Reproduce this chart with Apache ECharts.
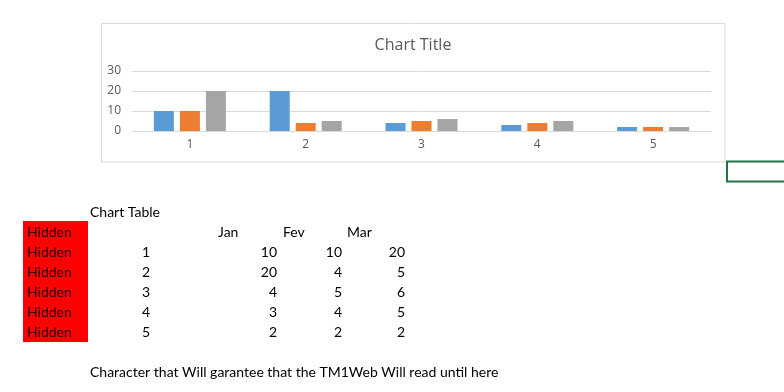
<!DOCTYPE html>
<html>
<head>
<meta charset="utf-8">
<script src="https://cdn.jsdelivr.net/npm/echarts@6/dist/echarts.min.js"></script>
<style>
html,body{margin:0;padding:0;background:#fff;}
#c{width:784px;height:392px;}
</style>
</head>
<body>
<div id="c"></div>
<script>
const categories = ['1', '2', '3', '4', '5'];
const seriesNames = ['Jan', 'Fev', 'Mar'];
const janValues = [10, 20, 4, 3, 2];
const fevValues = [10, 4, 5, 4, 2];
const marValues = [20, 5, 6, 5, 2];
const yTicks = [0, 10, 20, 30];
const hiddenLabels = ['Hidden', 'Hidden', 'Hidden', 'Hidden', 'Hidden', 'Hidden'];
const chartTitle = 'Chart Title';
const tableTitle = 'Chart Table';
const footerText = 'Character that Will garantee that the TM1Web Will read until here';

const colors = ['#5B9BD5', '#ED7D31', '#A5A5A5'];
const cellFont = '14px Lato, "Open Sans", sans-serif';
const chartFont = '"Open Sans", "Noto Sans", sans-serif';

const chart = echarts.init(document.getElementById('c'), null, {renderer: 'canvas'});

const graphics = [];
// chart area border
graphics.push({type: 'rect', shape: {x: 101.5, y: 23.5, width: 623.5, height: 138.5},
  style: {fill: null, stroke: '#d9d9d9', lineWidth: 1}, z: 0});
// chart title
graphics.push({type: 'text', x: 413, y: 45, style: {text: chartTitle, fill: '#595959',
  font: '16px ' + chartFont, textAlign: 'center', textVerticalAlign: 'middle'}});
// selected cell
graphics.push({type: 'rect', shape: {x: 727, y: 161.5, width: 70, height: 20},
  style: {fill: null, stroke: '#217346', lineWidth: 2}});
// hidden red cells
graphics.push({type: 'rect', shape: {x: 23, y: 221, width: 65, height: 121},
  style: {fill: '#ff0000', stroke: null}});
hiddenLabels.forEach((t, i) => {
  graphics.push({type: 'text', x: 27, y: 232 + i * 20, style: {text: t, fill: '#1a0000',
    font: cellFont, textAlign: 'left', textVerticalAlign: 'middle'}});
});
// table title
graphics.push({type: 'text', x: 90, y: 212, style: {text: tableTitle, fill: '#000',
  font: cellFont, textAlign: 'left', textVerticalAlign: 'middle'}});
// header
const headerX = [218, 283, 347];
seriesNames.forEach((t, i) => {
  graphics.push({type: 'text', x: headerX[i], y: 232, style: {text: t, fill: '#000',
    font: cellFont, textAlign: 'left', textVerticalAlign: 'middle'}});
});
// rows
const valueCols = [janValues, fevValues, marValues];
const valueRight = [277, 342, 405];
categories.forEach((c, r) => {
  const y = 252 + r * 20;
  graphics.push({type: 'text', x: 150, y: y, style: {text: c, fill: '#000',
    font: cellFont, textAlign: 'right', textVerticalAlign: 'middle'}});
  valueCols.forEach((col, k) => {
    graphics.push({type: 'text', x: valueRight[k], y: y, style: {text: String(col[r]), fill: '#000',
      font: cellFont, textAlign: 'right', textVerticalAlign: 'middle'}});
  });
});
// footer
graphics.push({type: 'text', x: 90, y: 372, style: {text: footerText, fill: '#000',
  font: cellFont, textAlign: 'left', textVerticalAlign: 'middle'}});

const option = {
  backgroundColor: '#ffffff',
  animation: false,
  color: colors,
  grid: {left: 132, right: 73, top: 71, bottom: 261, containLabel: false},
  xAxis: {
    type: 'category',
    data: categories,
    axisTick: {show: false},
    axisLine: {lineStyle: {color: '#d9d9d9', width: 1}},
    axisLabel: {color: '#595959', fontSize: 12, fontFamily: chartFont, margin: 8}
  },
  yAxis: {
    type: 'value',
    min: yTicks[0],
    max: yTicks[yTicks.length - 1],
    interval: 10,
    axisLine: {show: false},
    axisTick: {show: false},
    splitLine: {lineStyle: {color: '#d9d9d9', width: 1}},
    axisLabel: {color: '#595959', fontSize: 12, fontFamily: chartFont, margin: 11}
  },
  series: [janValues, fevValues, marValues].map((d, i) => ({
    name: seriesNames[i],
    type: 'bar',
    data: d,
    barWidth: 20,
    barGap: '30%'
  })),
  graphic: graphics
};
chart.setOption(option);
</script>
</body>
</html>
